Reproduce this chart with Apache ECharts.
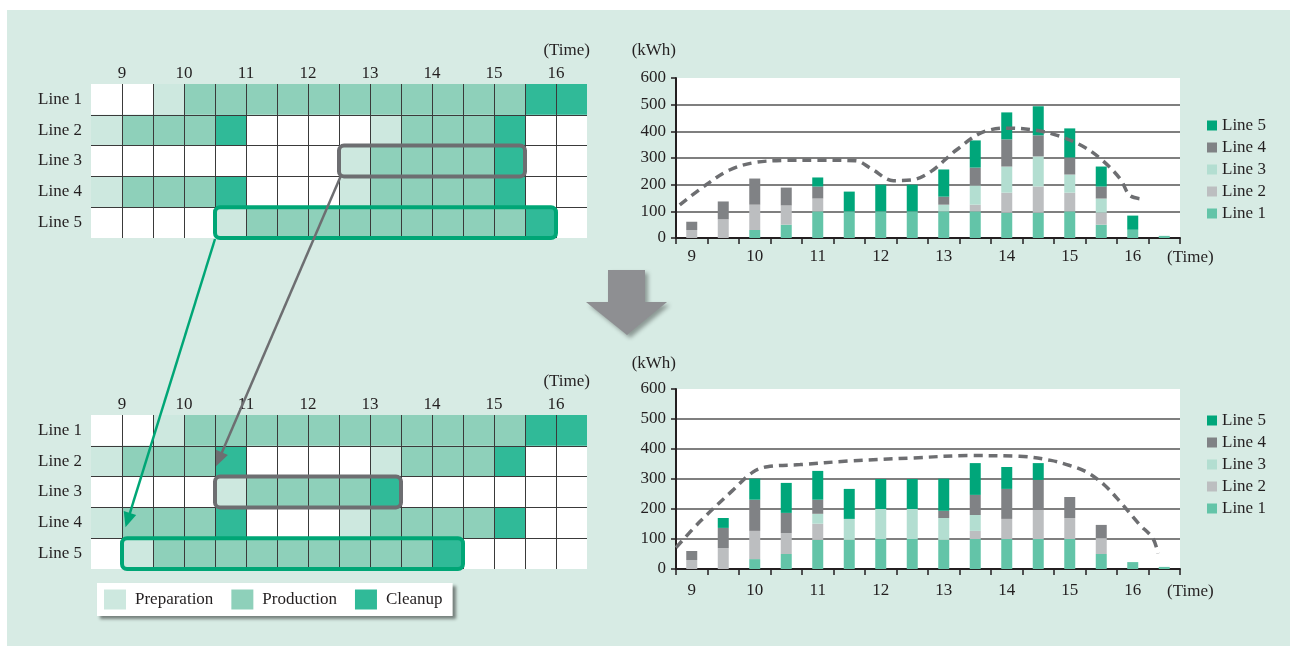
<!DOCTYPE html>
<html><head><meta charset="utf-8">
<script src="https://cdn.jsdelivr.net/npm/echarts@6/dist/echarts.min.js"></script>
<style>
html,body{margin:0;padding:0;background:#fff;}
#panel{position:absolute;left:7px;top:10px;width:1283px;height:636px;background:#d7ebe4;}
#chart{position:absolute;left:0;top:0;width:1290px;height:646px;}
</style></head><body>
<div id="panel"></div><div id="chart"></div>
<script>
// ---------- Schedule tables (columns every 30 min starting 8:30) ----------
const tableRows = ['Line 1','Line 2','Line 3','Line 4','Line 5'];
const tableStartHour = 8.5;
const stateNames = ['Preparation','Production','Cleanup'];
// 0 = idle, 1 = preparation, 2 = production, 3 = cleanup
const beforeLine1 = [0,0,1,2,2,2,2,2,2,2,2,2,2,2,3,3];
const beforeLine2 = [1,2,2,2,3,0,0,0,0,1,2,2,2,3,0,0];
const beforeLine3 = [0,0,0,0,0,0,0,0,1,2,2,2,2,3,0,0];
const beforeLine4 = [1,2,2,2,3,0,0,0,1,2,2,2,2,3,0,0];
const beforeLine5 = [0,0,0,0,1,2,2,2,2,2,2,2,2,2,3,0];
const afterLine1  = [0,0,1,2,2,2,2,2,2,2,2,2,2,2,3,3];
const afterLine2  = [1,2,2,2,3,0,0,0,0,1,2,2,2,3,0,0];
const afterLine3  = [0,0,0,0,1,2,2,2,2,3,0,0,0,0,0,0];
const afterLine4  = [1,2,2,2,3,0,0,0,1,2,2,2,2,3,0,0];
const afterLine5  = [0,1,2,2,2,2,2,2,2,2,2,3,0,0,0,0];
// highlighted (shifted) runs: [start hour, end hour, line]
const beforeBoxes = [[12.5,15.5,'Line 3'],[10.5,16.0,'Line 5']];
const afterBoxes  = [[10.5,13.5,'Line 3'],[9.0,14.5,'Line 5']];

// ---------- Energy charts (kWh per 30-min slot) ----------
const slots = ['9:00','9:30','10:00','10:30','11:00','11:30','12:00','12:30','13:00','13:30','14:00','14:30','15:00','15:30','16:00','16:30'];
const lineNames = ['Line 1','Line 2','Line 3','Line 4','Line 5'];
const beforeKwhLine1 = [0,0,30,50,100,100,100,100,100,100,95,95,100,50,31,8];
const beforeKwhLine2 = [30,70,95,72,48,0,0,0,0,25,75,98,70,45,0,0];
const beforeKwhLine3 = [0,0,0,0,0,0,0,0,25,72,98,113,68,53,0,0];
const beforeKwhLine4 = [31,67,98,67,45,0,0,0,30,67,102,79,64,45,0,0];
const beforeKwhLine5 = [0,0,0,0,34,74,100,100,102,102,101,109,109,75,53,0];
const afterKwhLine1 = [0,0,33,50,97,97,100,100,97,100,100,100,100,50,23,7];
const afterKwhLine2 = [30,70,94,70,54,0,0,0,0,27,67,97,70,53,0,0];
const afterKwhLine3 = [0,0,0,0,33,70,100,100,73,53,0,0,0,0,0,0];
const afterKwhLine4 = [30,67,104,67,47,0,0,0,24,67,100,100,70,44,0,0];
const afterKwhLine5 = [0,33,70,100,96,100,100,100,107,106,73,56,0,0,0,0];
// dashed envelope curves: [hour, kWh]
const beforeCurve = [[8.81,124],[9.2,195],[9.6,255],[10.0,283],[10.5,291],[11.0,292],[11.6,290],[11.85,260],[12.2,215],[12.5,218],[12.8,250],[13.2,330],[13.6,395],[14.0,412],[14.4,406],[14.8,385],[15.2,345],[15.5,295],[15.8,222],[15.95,160],[16.12,147]];
const afterCurve = [[8.75,71],[9.13,158],[9.65,262],[9.97,323],[10.2,341],[10.72,348],[11.5,360],[12.5,370],[13.4,378],[14.2,376],[14.7,362],[15.0,345],[15.27,323],[15.55,280],[15.8,224],[16.1,150],[16.32,102],[16.4,52]];

// ---------- styles ----------
const FONT = '"Liberation Serif","Times New Roman",serif';
const TXT = '#231f20';
const stateColors = ['#cde8df','#8ed0ba','#30ba98'];
const lineColors = ['#63c4a8','#bcbec0','#b3ded1','#808285','#00a67a'];
const boxColors = ['#6d6e71','#00a676'];
const curveColor = '#6d6e71';
const font = {fontFamily:FONT, fontSize:17, color:TXT};

function cellSeries(lines, idx) {
  return stateNames.map((name, si) => {
    const data = [];
    lines.forEach((arr, r) => arr.forEach((s, c) => {
      if (s === si + 1) data.push([tableStartHour + c * 0.5, tableRows[r]]);
    }));
    return {
      type:'custom', name, xAxisIndex:idx, yAxisIndex:idx, z:2,
      itemStyle:{color:stateColors[si]}, data, encode:{x:0, y:1},
      renderItem:(p, api) => {
        const a = api.coord([api.value(0), api.value(1)]);
        const b = api.coord([api.value(0) + 0.5, api.value(1)]);
        const h = api.size([0, 1])[1];
        return {type:'rect', shape:{x:a[0], y:a[1]-h/2, width:b[0]-a[0], height:h}, style:{fill:api.visual('color')}};
      }
    };
  });
}
function boxSeries(boxes, idx) {
  return {
    type:'custom', name:'shift', xAxisIndex:idx, yAxisIndex:idx, z:10, silent:true,
    data:boxes, encode:{x:[0,1], y:2},
    renderItem:(p, api) => {
      const a = api.coord([api.value(0), api.value(2)]);
      const b = api.coord([api.value(1), api.value(2)]);
      const h = api.size([0, 1])[1];
      return {type:'rect', shape:{x:a[0], y:a[1]-h/2, width:b[0]-a[0], height:h, r:5},
        style:{fill:'none', stroke:boxColors[p.dataIndex], lineWidth:4}};
    }
  };
}
function barSeries(vals, stack, xi, yi) {
  return vals.map((v, i) => ({
    type:'bar', name:lineNames[i], stack, xAxisIndex:xi, yAxisIndex:yi, barWidth:11,
    itemStyle:{color:lineColors[i]}, data:v, z:2
  }));
}
function curveSeries(data, xi, yi) {
  return {type:'line', name:'curve', xAxisIndex:xi, yAxisIndex:yi, data, smooth:0.35, symbol:'none', z:6,
    lineStyle:{color:curveColor, width:3.5, type:[9,6]}};
}
function tableX(gi) {
  return {gridIndex:gi, type:'value', min:8.5, max:16.5, interval:0.5, position:'top', z:5,
    axisLine:{show:false}, axisTick:{show:false},
    axisLabel:Object.assign({margin:2, formatter:v => Math.abs(v - Math.round(v)) < 1e-6 ? String(Math.round(v)) : ''}, font),
    splitLine:{show:true, showMinLine:false, showMaxLine:false, lineStyle:{color:'#3a3a3a', width:1}},
    name:'(Time)', nameLocation:'end', nameGap:3,
    nameTextStyle:Object.assign({align:'right', verticalAlign:'bottom', padding:[0,0,25,0]}, font)};
}
function tableY(gi) {
  return {gridIndex:gi, type:'category', data:tableRows, inverse:true, z:5,
    axisLine:{show:false}, axisTick:{show:false},
    axisLabel:Object.assign({margin:9, padding:[4,0,0,0]}, font),
    splitLine:{show:true, interval:0, showMinLine:false, showMaxLine:false, lineStyle:{color:'#3a3a3a', width:1}}};
}
function barX(gi, labelMargin, namePad) {
  return {gridIndex:gi, type:'category', data:slots,
    axisLine:{show:true, lineStyle:{color:TXT, width:2}},
    axisTick:{show:true, interval:0, length:6, lineStyle:{color:TXT, width:1.5}},
    axisLabel:Object.assign({interval:0, margin:labelMargin, formatter:v => v.endsWith(':00') ? v.split(':')[0] : ''}, font),
    name:'(Time)', nameLocation:'end', nameGap:-13,
    nameTextStyle:Object.assign({align:'left', verticalAlign:'top', padding:[namePad,0,0,0]}, font)};
}
function curveX(gi) {
  return {gridIndex:gi, type:'value', min:8.75, max:16.75, show:false};
}
function barY(gi, nameGap) {
  return {gridIndex:gi, type:'value', min:0, max:600, interval:100,
    axisLine:{show:true, lineStyle:{color:TXT, width:2}},
    axisTick:{show:true, length:5, lineStyle:{color:TXT, width:1.5}},
    axisLabel:Object.assign({margin:10}, font),
    splitLine:{show:true, showMinLine:false, showMaxLine:false, lineStyle:{color:'#555', width:1.5}},
    name:'(kWh)', nameLocation:'end', nameGap,
    nameTextStyle:Object.assign({align:'right'}, font)};
}
const barLegend = top => ({
  data:['Line 5','Line 4','Line 3','Line 2','Line 1'], orient:'vertical', left:1202, top,
  icon:'rect', itemWidth:10, itemHeight:10, itemGap:5, selectedMode:false,
  textStyle:Object.assign({lineHeight:17}, font)
});

const option = {
  animation:false,
  backgroundColor:'transparent',
  textStyle:{fontFamily:FONT},
  grid:[
    {left:91, top:84, width:496, height:154, show:true, backgroundColor:'#fff', borderWidth:0},
    {left:91, top:415, width:496, height:154, show:true, backgroundColor:'#fff', borderWidth:0},
    {left:676, top:78, width:504, height:160, show:true, backgroundColor:'#fff', borderWidth:0},
    {left:676, top:389, width:504, height:180, show:true, backgroundColor:'#fff', borderWidth:0}
  ],
  xAxis:[tableX(0), tableX(1), barX(2, 10, 11), curveX(2), barX(3, 13, 14), curveX(3)],
  yAxis:[tableY(0), tableY(1), barY(2, 19), barY(3, 17)],
  legend:[
    {data:stateNames, left:97, top:583, orient:'horizontal', icon:'rect', itemWidth:22, itemHeight:20, itemGap:18,
     padding:[6.5,10,6.5,7], backgroundColor:'#fff', shadowColor:'rgba(0,0,0,0.45)', shadowBlur:3, shadowOffsetX:3, shadowOffsetY:3,
     selectedMode:false, textStyle:Object.assign({padding:[0,0,0,4]}, font)},
    barLegend(112),
    barLegend(407)
  ],
  series:[
    ...cellSeries([beforeLine1,beforeLine2,beforeLine3,beforeLine4,beforeLine5], 0),
    boxSeries(beforeBoxes, 0),
    ...cellSeries([afterLine1,afterLine2,afterLine3,afterLine4,afterLine5], 1),
    boxSeries(afterBoxes, 1),
    ...barSeries([beforeKwhLine1,beforeKwhLine2,beforeKwhLine3,beforeKwhLine4,beforeKwhLine5], 'before', 2, 2),
    curveSeries(beforeCurve, 3, 2),
    ...barSeries([afterKwhLine1,afterKwhLine2,afterKwhLine3,afterKwhLine4,afterKwhLine5], 'after', 4, 3),
    curveSeries(afterCurve, 5, 3)
  ]
};

const chart = echarts.init(document.getElementById('chart'), null, {renderer:'canvas'});
chart.setOption(option);

// ---------- annotation arrows, anchored to table coordinates ----------
function px(gi, hour, row) { return chart.convertToPixel({gridIndex:gi}, [hour, row]); }
const rowH = px(0, 9, 1)[1] - px(0, 9, 0)[1];
function arrow(p0, p1, color) {
  const dx = p1[0]-p0[0], dy = p1[1]-p0[1], L = Math.hypot(dx, dy);
  const ux = dx/L, uy = dy/L, hl = 15, hw = 6.5;
  const bx = p1[0]-ux*hl, by = p1[1]-uy*hl;
  return [
    {type:'line', z:30, shape:{x1:p0[0], y1:p0[1], x2:bx+ux*2, y2:by+uy*2}, style:{stroke:color, lineWidth:2.5}},
    {type:'polygon', z:30, shape:{points:[[p1[0],p1[1]],[bx-uy*hw, by+ux*hw],[bx+uy*hw, by-ux*hw]]}, style:{fill:color}}
  ];
}
const g1 = px(0, beforeBoxes[0][0], 2); const g1e = px(1, afterBoxes[0][0], 1);
const gr1 = px(0, beforeBoxes[1][0], 4); const gr1e = px(1, afterBoxes[1][0], 3);
const elements = [
  {type:'polygon', z:1, shape:{points:[[608,270],[645,270],[645,302],[667,302],[627,335],[586,302],[608,302]]},
   style:{fill:'#8e8f92', shadowBlur:4, shadowOffsetX:3, shadowOffsetY:3, shadowColor:'rgba(0,0,0,0.35)'}},
  ...arrow([g1[0]+2, g1[1]+rowH/2-1], [g1e[0]+1, g1e[1]+5], boxColors[0]),
  ...arrow([gr1[0], gr1[1]+rowH/2+1], [gr1e[0]+3.5, gr1e[1]+4.5], boxColors[1])
];
chart.setOption({graphic:{elements}});
</script>
</body></html>
